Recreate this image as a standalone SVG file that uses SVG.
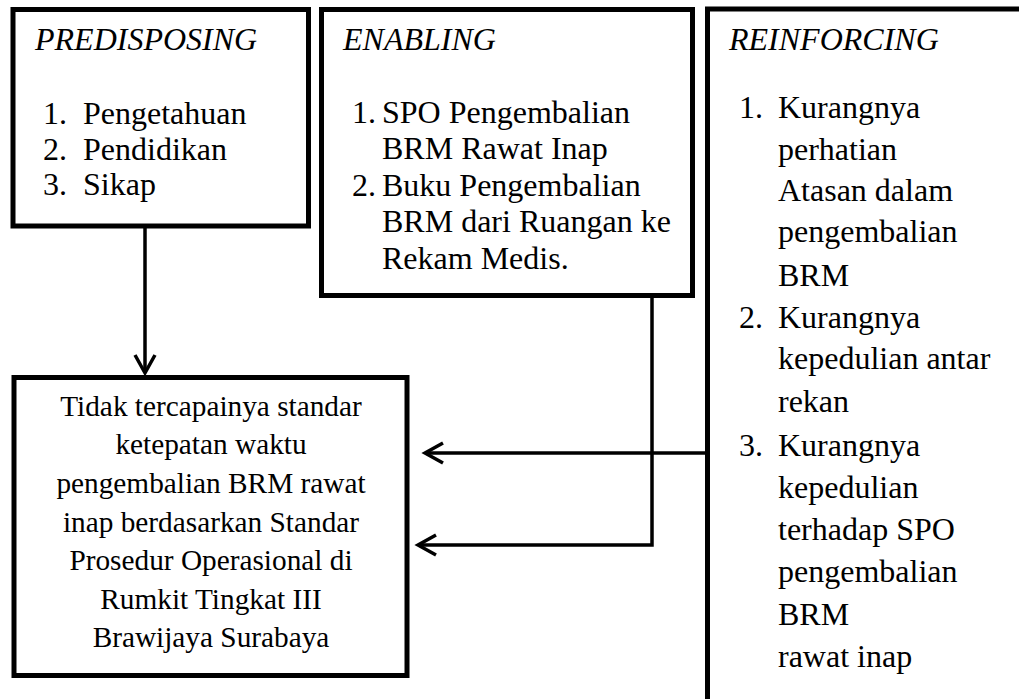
<svg xmlns="http://www.w3.org/2000/svg" width="1019" height="699" viewBox="0 0 1019 699">
<style>
.box{fill:#fff;stroke:#000;stroke-width:5}
.t{font-family:"Liberation Serif","Times New Roman",serif;font-size:32px;fill:#000}
.h{font-style:italic}
.c{font-size:29.3px;text-anchor:middle}
.ln{fill:none;stroke:#000;stroke-width:3.5}
</style>
<defs>
<marker id="ah" viewBox="-22 -14 26 28" refX="0" refY="0" markerWidth="26" markerHeight="28" markerUnits="userSpaceOnUse" orient="auto" overflow="visible">
<path d="M-18,-10 L0,0 L-18,10" fill="none" stroke="#000" stroke-width="3.5"/>
</marker>
</defs>
<rect width="1019" height="699" fill="#fff"/>
<g id="predisposing">
<rect class="box" x="13" y="9.5" width="295.5" height="216.5"/>
<text class="t h" x="35" y="50">PREDISPOSING</text>
<text class="t" x="43" y="124">1.</text><text class="t" x="83" y="124">Pengetahuan</text>
<text class="t" x="43" y="160">2.</text><text class="t" x="83" y="160">Pendidikan</text>
<text class="t" x="43" y="195">3.</text><text class="t" x="83" y="195">Sikap</text>
</g>
<g id="enabling">
<rect class="box" x="321.5" y="9.5" width="371" height="286"/>
<text class="t h" x="343" y="50">ENABLING</text>
<text class="t" x="352" y="123">1.</text><text class="t" x="382" y="123">SPO Pengembalian</text>
<text class="t" x="382" y="159">BRM Rawat Inap</text>
<text class="t" x="352" y="196">2.</text><text class="t" x="382" y="196">Buku Pengembalian</text>
<text class="t" x="382" y="232">BRM dari Ruangan ke</text>
<text class="t" x="382" y="269">Rekam Medis.</text>
</g>
<g id="reinforcing">
<rect class="box" x="707.5" y="9" width="400" height="800"/>
<text class="t h" x="729" y="50">REINFORCING</text>
<text class="t" x="739" y="118">1.</text><text class="t" x="778" y="118">Kurangnya</text>
<text class="t" x="778" y="160">perhatian</text>
<text class="t" x="778" y="201">Atasan dalam</text>
<text class="t" x="778" y="242">pengembalian</text>
<text class="t" x="778" y="286">BRM</text>
<text class="t" x="739" y="328">2.</text><text class="t" x="778" y="328">Kurangnya</text>
<text class="t" x="778" y="369">kepedulian antar</text>
<text class="t" x="778" y="412">rekan</text>
<text class="t" x="739" y="456">3.</text><text class="t" x="778" y="456">Kurangnya</text>
<text class="t" x="778" y="498">kepedulian</text>
<text class="t" x="778" y="540">terhadap SPO</text>
<text class="t" x="778" y="582">pengembalian</text>
<text class="t" x="778" y="625">BRM</text>
<text class="t" x="778" y="667">rawat inap</text>
</g>
<g id="outcome">
<rect class="box" x="14" y="377.5" width="393" height="298"/>
<text class="t c" x="211" y="416">Tidak tercapainya standar</text>
<text class="t c" x="211" y="454">ketepatan waktu</text>
<text class="t c" x="211" y="493">pengembalian BRM rawat</text>
<text class="t c" x="211" y="532">inap berdasarkan Standar</text>
<text class="t c" x="211" y="570">Prosedur Operasional di</text>
<text class="t c" x="211" y="609">Rumkit Tingkat III</text>
<text class="t c" x="211" y="647">Brawijaya Surabaya</text>
</g>
<g id="connectors">
<path class="ln" d="M145,228 L145,373" marker-end="url(#ah)"/>
<path class="ln" d="M706,453 L425,453" marker-end="url(#ah)"/>
<path class="ln" d="M652,297 L652,545 L418,545" marker-end="url(#ah)" stroke-width="3"/>
</g>
</svg>
